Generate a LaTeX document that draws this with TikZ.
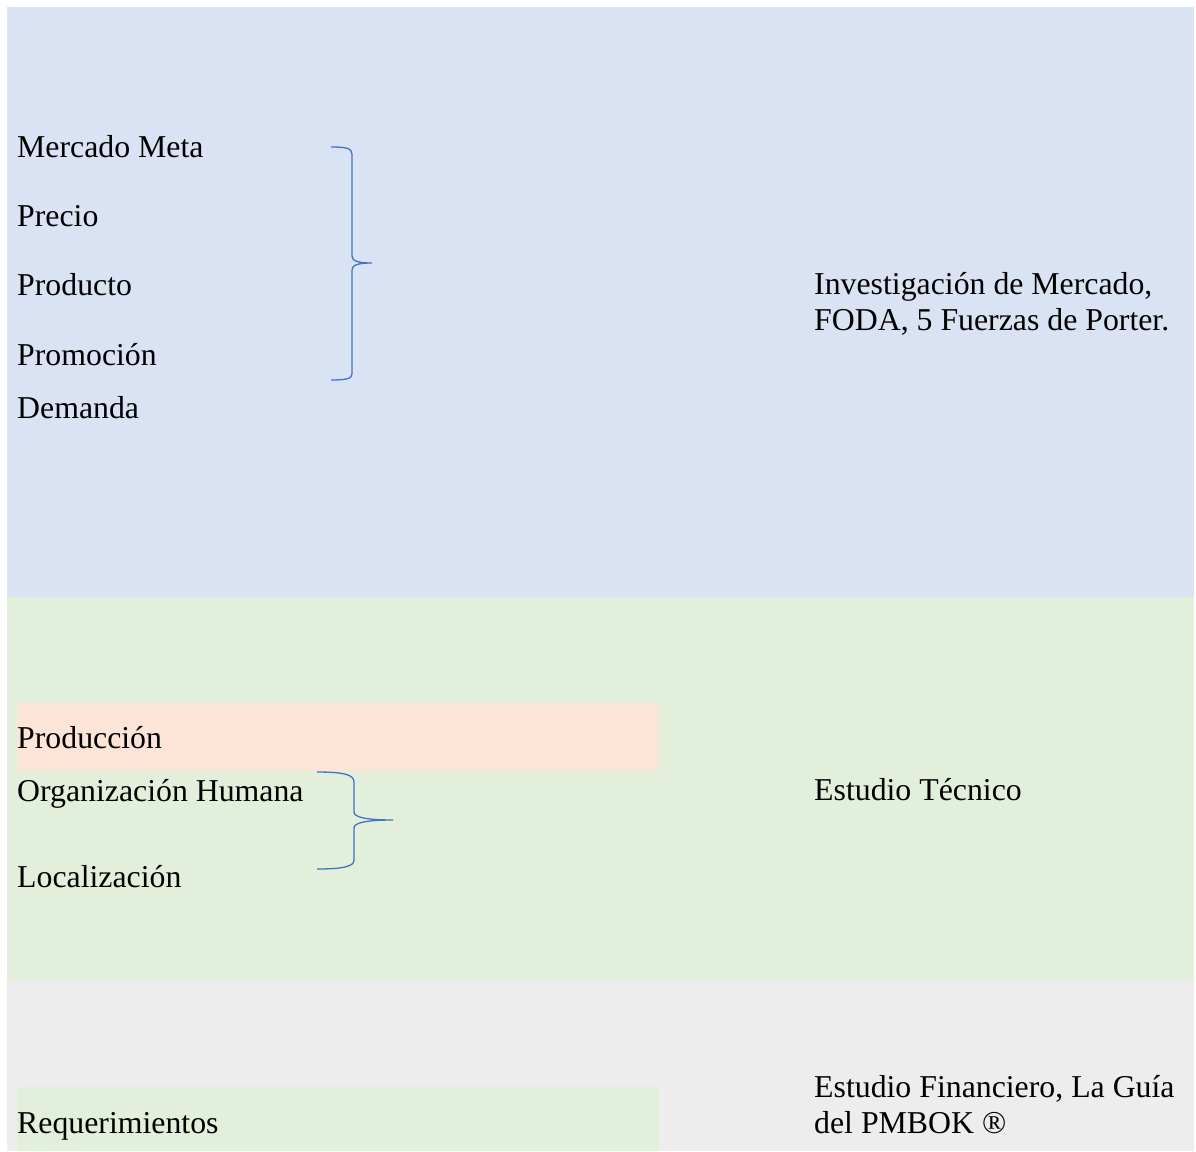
\documentclass[tikz,border=0pt]{standalone}
\usepackage{fontspec}
\setmainfont{Liberation Serif}
\definecolor{pblue}{HTML}{DAE3F3}
\definecolor{pgreen}{HTML}{E2EFDA}
\definecolor{pgray}{HTML}{EDEDED}
\definecolor{ppeach}{HTML}{FCE4D6}
\definecolor{bline}{HTML}{4472C4}
\begin{document}
\begin{tikzpicture}[x=1pt,y=-1pt,
  lbl/.style={anchor=base west,inner sep=0pt,font=\fontsize{31.8}{36}\selectfont},
  rlbl/.style={anchor=base west,inner sep=0pt,align=left,font=\fontsize{31.8}{36}\selectfont},
  bracepath/.style={draw=bline,line width=1.3pt}]
\useasboundingbox (0,0) rectangle (1196,1151);
\fill[white] (0,0) rectangle (1196,1151);
% panels
\fill[pblue] (7,7) rectangle (1194,597);
\fill[pgreen] (7,597) rectangle (1194,980);
\fill[pgray] (7,980) rectangle (1194,1151);
\fill[ppeach] (17,703) rectangle (659,771);
\fill[pgreen] (17,1087) rectangle (659,1151);
% left labels
\node[lbl] (mm) at (17,157) {Mercado Meta};
\node[lbl] (pr) at (17,226) {Precio};
\node[lbl] (pd) at (17,295) {Producto};
\node[lbl] (pm) at (17,365) {Promoción};
\node[lbl] (de) at (17,418) {Demanda};
\node[lbl] (pc) at (17,748) {Producción};
\node[lbl] (oh) at (17,801) {Organización Humana};
\node[lbl] (lo) at (17,887) {Localización};
\node[lbl] (rq) at (17,1133) {Requerimientos};
% right labels
\node[rlbl] (im) at (814,330) {Investigación de Mercado,\\FODA, 5 Fuerzas de Porter.};
\node[lbl] (et) at (814,800) {Estudio Técnico};
\node[rlbl] (ef) at (814,1133) {Estudio Financiero, La Guía\\del PMBOK ®};
% braces
\draw[bracepath] (331,147) .. controls (345,147) and (352,148) .. (352,154) -- (352,256)
  .. controls (352,261) and (358,263) .. (372,263)
  .. controls (358,263) and (352,265) .. (352,270) -- (352,374)
  .. controls (352,379) and (345,380) .. (331,380);
\draw[bracepath] (317,772) .. controls (345,772) and (354,775) .. (354,782) -- (354,812)
  .. controls (354,817) and (365,820) .. (393,820)
  .. controls (365,820) and (354,823) .. (354,828) -- (354,860)
  .. controls (354,866) and (345,869) .. (317,869);
\end{tikzpicture}
\end{document}
